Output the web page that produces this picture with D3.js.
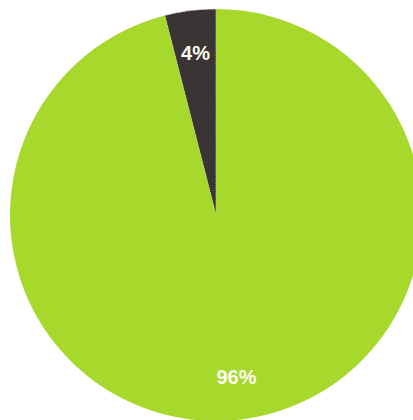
<!DOCTYPE html>
<html>
<head>
<meta charset="utf-8">
<script src="https://cdn.jsdelivr.net/npm/d3@7"></script>
<style>
  html, body { margin: 0; padding: 0; background: #fff; }
  svg { display: block; }
</style>
</head>
<body>
<div id="chart"></div>
<script>
const labels = ["4%", "96%"];
const values = [4, 96];
const colors = ["#3b3434", "#a6d92c"];

const width = 413;
const height = 420;
const cx = 216;
const cy = 215;
const radius = 206;

const svg = d3.select("#chart")
  .append("svg")
  .attr("width", width)
  .attr("height", height);

const g = svg.append("g").attr("transform", `translate(${cx},${cy})`);

// small slice ends at 12 o'clock, big one wraps round clockwise
const startAngle = -2 * Math.PI * values[0] / d3.sum(values);
const pie = d3.pie()
  .sort(null)
  .startAngle(startAngle)
  .endAngle(startAngle + 2 * Math.PI);

const arcs = pie(values);

const arc = d3.arc().innerRadius(0).outerRadius(radius);
const labelArc = d3.arc().innerRadius(163).outerRadius(163);

g.selectAll(".slice")
  .data(arcs)
  .join("path")
  .attr("class", "slice")
  .attr("d", arc)
  .attr("fill", (d, i) => colors[i])
  .attr("stroke", (d, i) => (i === 0 ? "#e8e8d8" : "none"))
  .attr("stroke-width", 0.8)
  .attr("stroke-dasharray", "1.5,1");

g.selectAll(".label")
  .data(arcs)
  .join("text")
  .attr("class", "label")
  .attr("transform", (d) => `translate(${labelArc.centroid(d)})`)
  .attr("text-anchor", "middle")
  .attr("dy", "0.35em")
  .attr("fill", "#fbfbf0")
  .attr("font-family", "'Liberation Sans', Arial, sans-serif")
  .attr("font-weight", "bold")
  .attr("font-size", 20)
  .text((d, i) => labels[i]);
</script>
</body>
</html>
